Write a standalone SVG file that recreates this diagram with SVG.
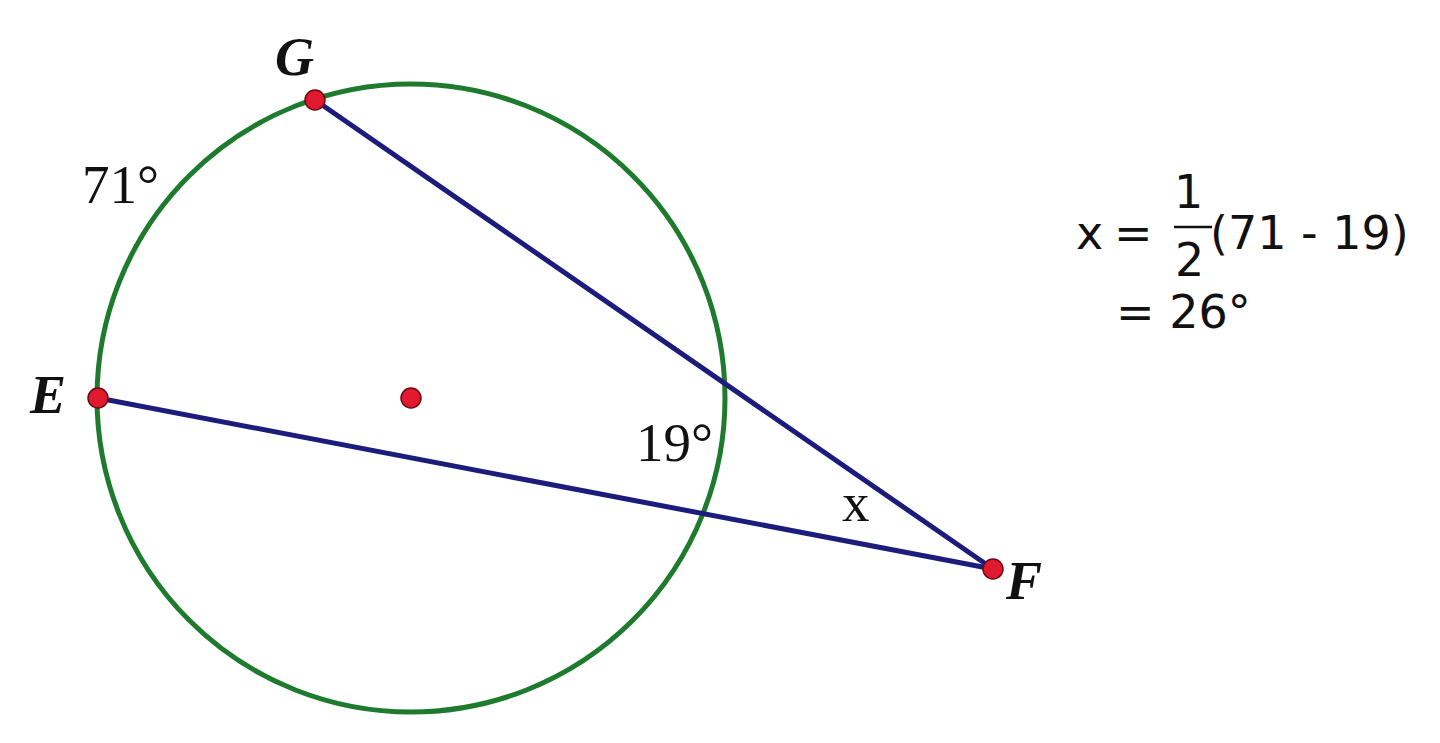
<svg xmlns="http://www.w3.org/2000/svg" width="1440" height="743" viewBox="0 0 1440 743">
<style>
.lbl{font-family:"Liberation Serif","Times New Roman",serif;font-weight:bold;font-style:italic;font-size:54px;fill:#111}
.ang{font-family:"Liberation Serif","Times New Roman",serif;font-size:55px;fill:#111}
.eq{font-family:"DejaVu Sans","Liberation Sans",sans-serif;font-size:46px;fill:#111}
.seg{stroke:#1c1c7c;stroke-width:5;stroke-linecap:round;fill:none}
.pt{fill:#e1192e;stroke:#6a0a10;stroke-width:1.5}
</style>
<rect width="1440" height="743" fill="#ffffff"/>
<g id="circle">
<circle cx="411" cy="398" r="314" fill="none" stroke="#1e7b2e" stroke-width="5"/>
</g>
<g id="connectors">
<line class="seg" x1="315" y1="100" x2="993" y2="569"/>
<line class="seg" x1="98" y1="398" x2="993" y2="569"/>
</g>
<g id="node-G"><circle class="pt" cx="315" cy="100" r="10"/><text class="lbl" x="275" y="75">G</text></g>
<g id="node-E"><circle class="pt" cx="98" cy="398" r="10"/><text class="lbl" x="30" y="413">E</text></g>
<g id="node-F"><circle class="pt" cx="993" cy="569" r="10"/><text class="lbl" x="1006" y="599">F</text></g>
<g id="node-center"><circle class="pt" cx="411" cy="398" r="10"/></g>
<g id="labels">
<text class="ang" x="82" y="203">71°</text>
<text class="ang" x="636" y="461">19°</text>
<text class="ang" x="842" y="521" font-size="58">x</text>
</g>
<g id="equation">
<text class="eq" x="1076" y="249">x</text>
<text class="eq" x="1114" y="249">=</text>
<text class="eq" x="1174" y="208">1</text>
<line x1="1174" y1="227" x2="1212" y2="227" stroke="#111" stroke-width="2.5"/>
<text class="eq" x="1175" y="276">2</text>
<text class="eq" x="1210" y="249">(71 - 19)</text>
<text class="eq" x="1116" y="328">= 26°</text>
</g>
</svg>
